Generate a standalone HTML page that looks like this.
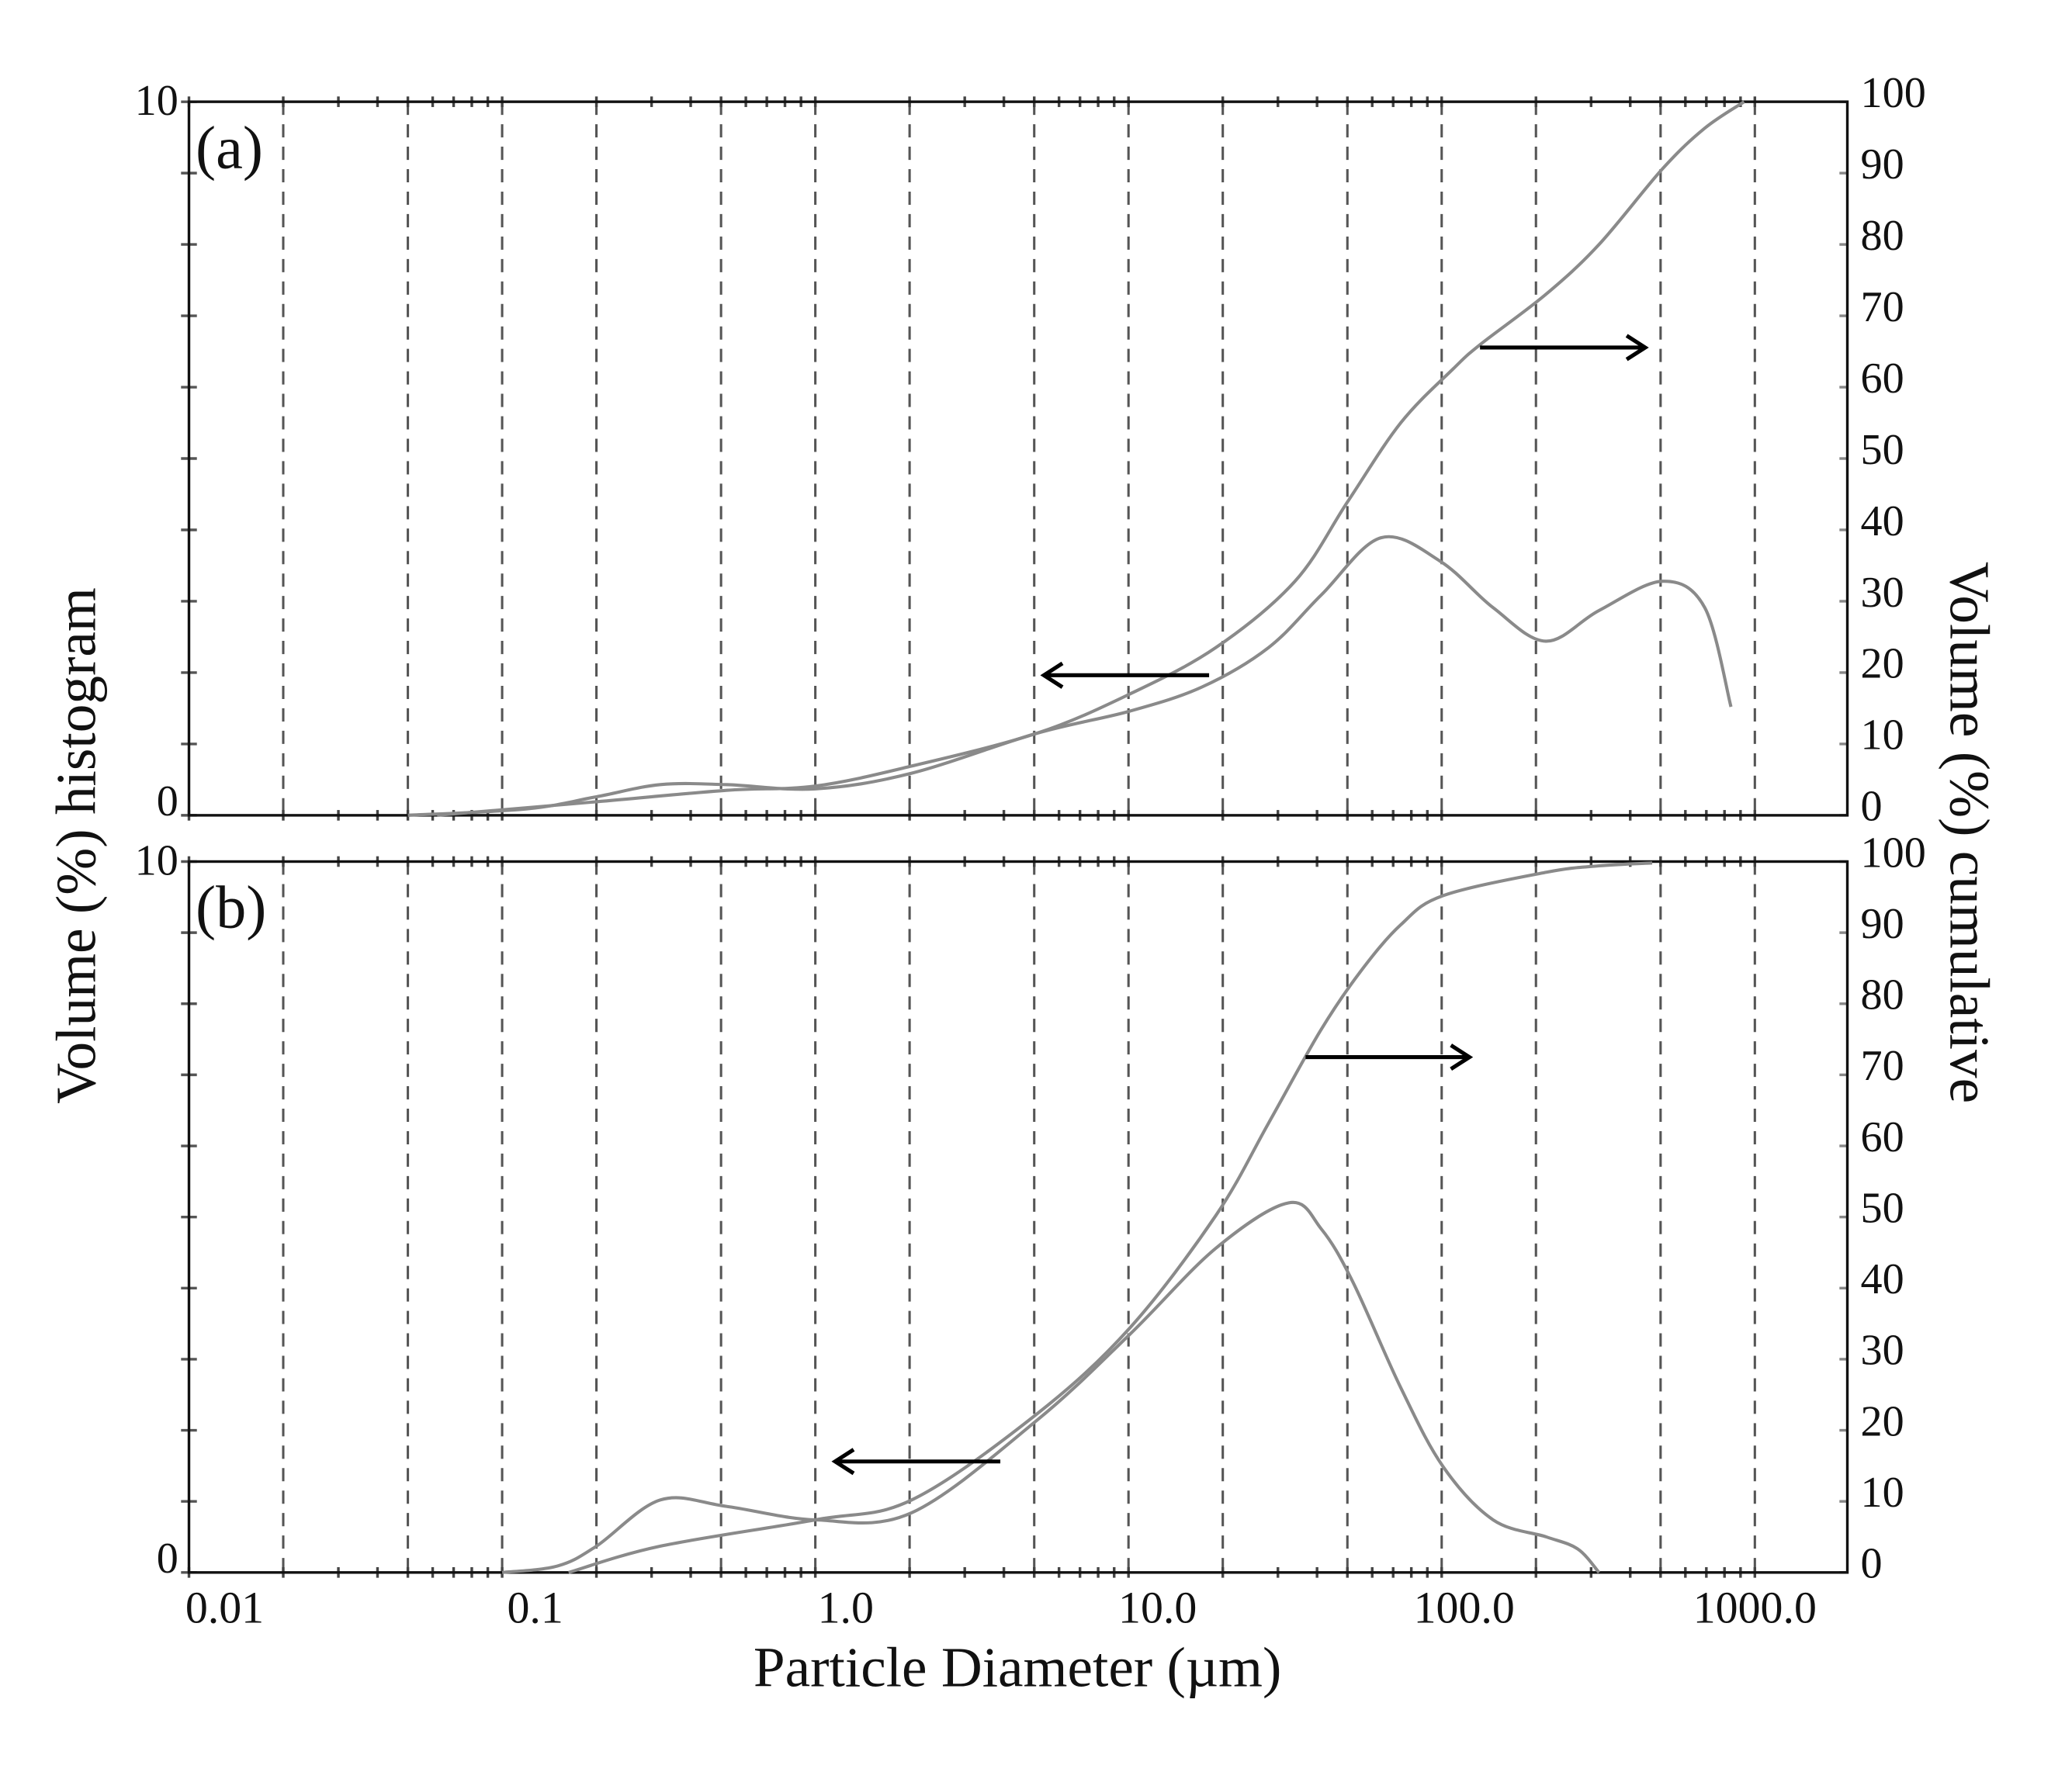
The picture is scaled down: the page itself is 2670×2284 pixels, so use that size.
<!DOCTYPE html>
<html><head><meta charset="utf-8"><style>
html,body{margin:0;padding:0;background:#fff}
svg{display:block}
text{font-family:"Liberation Serif",serif;fill:#111}
</style></head><body>
<svg id="chart" width="2670" height="2284" viewBox="0 0 1568 1341" preserveAspectRatio="none" xmlns="http://www.w3.org/2000/svg">
<g id="g"></g>
</svg>
<script>
// Panel (a) data
const histA_d = [0.05,0.12,0.2,0.32,0.52,1,2.03,5.1,10.1,17.2,28,41.3,64,99,146,215,318,507,692,839];
const histA_v = [0,0.09,0.26,0.43,0.43,0.37,0.59,1.15,1.46,1.8,2.35,3.09,3.89,3.56,2.91,2.44,2.87,3.28,2.91,1.52];
const cumA_d = [0.062,0.2,0.52,1,2.03,5.1,10.1,19,34,50,74,109,133,215,318,507,692,924];
const cumA_v = [0,1.9,3.5,4.1,6.9,11.5,17,23.5,32.8,43.9,55,62.6,66,73,80,90.6,96.3,100];
// Panel (b) data
const histB_d = [0.1,0.15,0.2,0.32,0.52,1,2.03,5.1,10.1,19,32.5,41.3,52,74,101,146,216,272,318];
const histB_v = [0,0.09,0.37,1.02,0.93,0.74,0.84,2.14,3.35,4.56,5.2,4.83,4.09,2.6,1.49,0.74,0.5,0.33,0];
const cumB_d = [0.163,0.32,1,2.03,5.1,10.1,19,28,41,55,74,101,216,318,470];
const cumB_v = [0,3.7,7.4,10.2,22.3,34.4,50.2,63.2,76.2,84.5,91.1,95.2,98.5,99.4,99.8];
const xTickLabels = ["0.01","0.1","1.0","10.0","100.0","1000.0"];
const xTickVals = [0.01,0.1,1,10,100,1000];
const gridVals = [0.02,0.05,0.1,0.2,0.5,1,2,5,10,20,50,100,200,500,1000];
const leftLabels = ["0","10"];
const rightLabels = ["0","10","20","30","40","50","60","70","80","90","100"];

const NS="http://www.w3.org/2000/svg";
const g=document.getElementById('g');
const L=143,R=1398;
function x(d){return 617+237*Math.log10(d);}
const panels=[{top:77,bot:617,tag:"(a)",name:"a"},{top:652,bot:1190,tag:"(b)",name:"b"}];
function el(tag,attrs,parent){const e=document.createElementNS(NS,tag);for(const k in attrs)e.setAttribute(k,attrs[k]);(parent||g).appendChild(e);return e;}
function smooth(pts){let s=`M${pts[0][0]},${pts[0][1]}`;for(let i=0;i<pts.length-1;i++){const p0=pts[Math.max(0,i-1)],p1=pts[i],p2=pts[i+1],p3=pts[Math.min(pts.length-1,i+2)];const c1=[p1[0]+(p2[0]-p0[0])/6,p1[1]+(p2[1]-p0[1])/6],c2=[p2[0]-(p3[0]-p1[0])/6,p2[1]-(p3[1]-p1[1])/6];s+=`C${c1[0]},${c1[1]} ${c2[0]},${c2[1]} ${p2[0]},${p2[1]}`;}return s;}
function arrow(x1,x2,y,name){
  const a=el('g',{});
  
  
  el('line',{x1:x1,y1:y,x2:x2,y2:y,stroke:'#000','stroke-width':3},a);
  const dir=x2>x1?1:-1;
  el('polyline',{points:`${x2-dir*14},${y-9} ${x2},${y} ${x2-dir*14},${y+9}`,fill:'none',stroke:'#000','stroke-width':3},a);
}
panels.forEach((p,pi)=>{
  const yL=v=>p.bot-(p.bot-p.top)*v/10;
  const yR=v=>p.bot-(p.bot-p.top)*v/100;
  const pg=el('g',{});
  
  
  gridVals.forEach(v=>{const l=el('line',{x1:x(v),x2:x(v),y1:p.top,y2:p.bot,stroke:'#555','stroke-width':1.8,'stroke-dasharray':'10,7'},pg);
    
    });
  for(let e=-2;e<=3;e++)for(let m=1;m<=9;m++){const v=m*Math.pow(10,e);const xx=x(v);if(xx>R)continue;
    el('line',{x1:xx,x2:xx,y1:p.top-4,y2:p.top+4,stroke:'#444','stroke-width':2},pg);
    el('line',{x1:xx,x2:xx,y1:p.bot-4,y2:p.bot+4,stroke:'#444','stroke-width':2},pg);}
  for(let v=0;v<=10;v++){el('line',{x1:L-6,x2:L+6,y1:yL(v),y2:yL(v),stroke:'#555','stroke-width':2},pg);
    el('line',{x1:R-6,x2:R,y1:yR(v*10),y2:yR(v*10),stroke:'#888','stroke-width':2},pg);}
  const ax=el('rect',{x:L,y:p.top,width:R-L,height:p.bot-p.top,fill:'none',stroke:'#111','stroke-width':2},pg);
  
  
  leftLabels.forEach((t,i)=>{const tx=el('text',{x:L-8,y:yL(i*10)+(i?10:0),'font-size':33,'text-anchor':'end'},pg);tx.textContent=t;
    
    });
  rightLabels.forEach((t,i)=>{const tx=el('text',{x:R+10,y:yR(i*10)+4,'font-size':33},pg);tx.textContent=t;
    
    });
  const tag=el('text',{x:148,y:p.top+50,'font-size':46},pg);tag.textContent=p.tag;
  
  
  const hd=pi?histB_d:histA_d,hv=pi?histB_v:histA_v,cd=pi?cumB_d:cumA_d,cv=pi?cumB_v:cumA_v;
  const h=el('path',{d:smooth(hd.map((d,i)=>[x(d),yL(hv[i])])),fill:'none',stroke:'#8a8a8a','stroke-width':2.4},pg);
  
  
  const c=el('path',{d:smooth(cd.map((d,i)=>[x(d),yR(cv[i])])),fill:'none',stroke:'#8a8a8a','stroke-width':2.4},pg);
  
  
});
arrow(915,790,511,'arrow-hist-a');
arrow(1120,1245,263,'arrow-cum-a');
arrow(988,1112,800,'arrow-cum-b');
arrow(757,632,1106,'arrow-hist-b');
const labelOff=[27,25,23,22,17,0];
xTickLabels.forEach((t,i)=>{const tx=el('text',{x:x(xTickVals[i])+labelOff[i],y:1228,'font-size':34,'text-anchor':'middle'});tx.textContent=t;
  
  });
const xt=el('text',{x:770,y:1276,'font-size':43,'text-anchor':'middle'});xt.textContent='Particle Diameter (µm)';


const yt=el('text',{x:0,y:0,'font-size':43,'text-anchor':'middle',transform:'translate(72,640) rotate(-90)'});yt.textContent='Volume (%) histogram';


const yt2=el('text',{x:0,y:0,'font-size':43,'text-anchor':'middle',transform:'translate(1476,630) rotate(90)'});yt2.textContent='Volume (%) cumulative';


</script>
</body></html>
